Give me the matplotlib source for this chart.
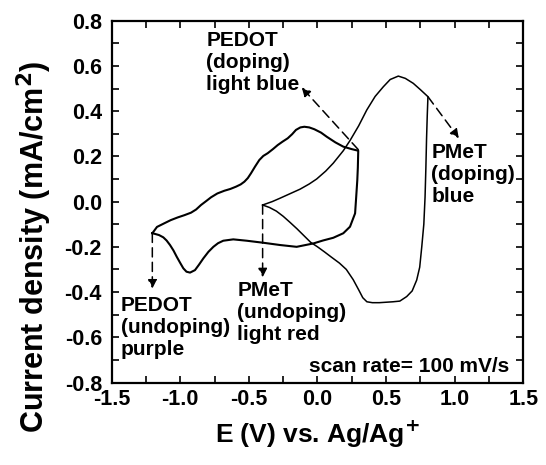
import numpy as np
import matplotlib
matplotlib.use("Agg")
import matplotlib.pyplot as plt
from matplotlib.ticker import MultipleLocator

plt.rcParams['font.family'] = ['Liberation Sans', 'DejaVu Sans']
plt.rcParams['font.weight'] = 'bold'
plt.rcParams['mathtext.default'] = 'bf'

# PEDOT cycle, -1.2 V -> 0.3 V -> -1.2 V
pedot_E = [-1.204, -1.170, -1.117, -1.070, -1.019, -0.970, -0.922, -0.885, -0.849,
           -0.810, -0.776, -0.730, -0.679, -0.635, -0.594, -0.560, -0.533, -0.508,
           -0.485, -0.455, -0.424, -0.395, -0.363, -0.325, -0.290, -0.255, -0.217,
           -0.185, -0.157, -0.125, -0.096, -0.060, -0.023, 0.026,
           0.067, 0.130, 0.188, 0.250, 0.297,
           0.294, 0.290, 0.282, 0.274, 0.237, 0.188, 0.115, 0.040, -0.030, -0.152,
           -0.273, -0.395, -0.516, -0.614, -0.687, -0.725, -0.759, -0.795, -0.832,
           -0.865, -0.893, -0.929, -0.955, -0.978, -1.000, -1.026, -1.050, -1.075,
           -1.100, -1.124, -1.155, -1.184, -1.204]
pedot_j = [-0.140, -0.112, -0.096, -0.082, -0.070, -0.060, -0.049, -0.035, -0.015,
           0.003, 0.019, 0.036, 0.048, 0.056, 0.066, 0.076, 0.088, 0.104,
           0.125, 0.155, 0.184, 0.202, 0.214, 0.232, 0.250, 0.265, 0.280,
           0.298, 0.317, 0.328, 0.331, 0.328, 0.320, 0.305,
           0.287, 0.262, 0.243, 0.232, 0.225,
           0.150, 0.094, 0.020, -0.052, -0.111, -0.140, -0.160, -0.172, -0.185, -0.200,
           -0.192, -0.182, -0.173, -0.167, -0.173, -0.184, -0.200, -0.222, -0.251,
           -0.280, -0.303, -0.314, -0.310, -0.295, -0.272, -0.244, -0.216, -0.192,
           -0.172, -0.158, -0.148, -0.143, -0.140]

# PMeT cycle, -0.4 V -> 0.8 V -> -0.4 V
pmet_E = [-0.400, -0.330, -0.273, -0.200, -0.127, -0.060, -0.006, 0.060, 0.115,
          0.188, 0.237, 0.300, 0.359, 0.420, 0.480, 0.530, 0.589, 0.640, 0.698,
          0.750, 0.805,
          0.800, 0.795, 0.790, 0.784, 0.775, 0.760, 0.745, 0.723, 0.690, 0.650,
          0.600, 0.550, 0.500, 0.450, 0.400, 0.360, 0.330, 0.300, 0.260, 0.210,
          0.160, 0.100, 0.050, 0.000, -0.050, -0.100, -0.150, -0.200, -0.250,
          -0.300, -0.350, -0.400]
pmet_j = [-0.015, 0.000, 0.015, 0.035, 0.055, 0.078, 0.100, 0.135, 0.170,
          0.225, 0.270, 0.335, 0.405, 0.465, 0.508, 0.540, 0.555, 0.545, 0.523,
          0.495, 0.464,
          0.380, 0.280, 0.150, 0.020, -0.100, -0.200, -0.290, -0.347, -0.395, -0.420,
          -0.440, -0.443, -0.445, -0.447, -0.447, -0.443, -0.425, -0.390, -0.345, -0.300,
          -0.272, -0.245, -0.222, -0.200, -0.180, -0.150, -0.120, -0.092, -0.065,
          -0.042, -0.026, -0.015]

# dashed arrows: (tail E, tail j, head E, head j)
arrows = [(0.297, 0.230, -0.115, 0.505),
          (0.805, 0.464, 1.030, 0.280),
          (-1.204, -0.140, -1.204, -0.385),
          (-0.400, -0.015, -0.400, -0.335)]

labels = [("PEDOT\n(doping)\nlight blue", -0.81, 0.755),
          ("PMeT\n(doping)\nblue", 0.83, 0.258),
          ("PMeT\n(undoping)\nlight red", -0.585, -0.350),
          ("PEDOT\n(undoping)\npurple", -1.435, -0.418)]

fig = plt.figure(figsize=(5.46, 4.65), dpi=100)
ax = fig.add_axes([0.2046, 0.1774, 0.7538, 0.7781])

ax.plot(pedot_E, pedot_j, color='k', lw=1.5)
ax.plot(pmet_E, pmet_j, color='k', lw=1.1)

for x0, y0, x1, y1 in arrows:
    ax.annotate("", xy=(x1, y1), xytext=(x0, y0),
                arrowprops=dict(arrowstyle='-|>', color='k', lw=1.1,
                                linestyle=(0, (6, 3.5)), mutation_scale=13,
                                shrinkA=0, shrinkB=0))

for txt, x, y in labels:
    ax.text(x, y, txt, fontsize=15, fontweight='bold', ha='left', va='top')

ax.text(-0.06, -0.752, "scan rate= 100 mV/s", fontsize=15, fontweight='bold',
        ha='left', va='baseline')

ax.set_xlim(-1.5, 1.5)
ax.set_ylim(-0.8, 0.8)
ax.xaxis.set_major_locator(MultipleLocator(0.5))
ax.xaxis.set_minor_locator(MultipleLocator(0.25))
ax.yaxis.set_major_locator(MultipleLocator(0.2))
ax.yaxis.set_minor_locator(MultipleLocator(0.1))
ax.xaxis.set_major_formatter(plt.FormatStrFormatter('%.1f'))
ax.yaxis.set_major_formatter(plt.FormatStrFormatter('%.1f'))
ax.tick_params(which='both', direction='in', top=True, right=True, length=5, width=1.2)
ax.tick_params(axis='x', which='major', labelsize=15.5, pad=5)
ax.tick_params(axis='y', which='major', labelsize=15.5, pad=7)
for lab in ax.get_xticklabels() + ax.get_yticklabels():
    lab.set_fontweight('bold')
for s in ax.spines.values():
    s.set_linewidth(1.6)

ax.set_xlabel("E (V) vs. Ag/Ag$^{\\mathbf{+}}$", fontsize=19, fontweight='bold')
ax.set_ylabel("Current density (mA/cm$^{\\mathbf{2}}$)", fontsize=22, fontweight='bold')
ax.xaxis.set_label_coords(0.5, -0.1)
ax.yaxis.set_label_coords(-0.14, 0.375)

fig.savefig("out.png", dpi=100)
